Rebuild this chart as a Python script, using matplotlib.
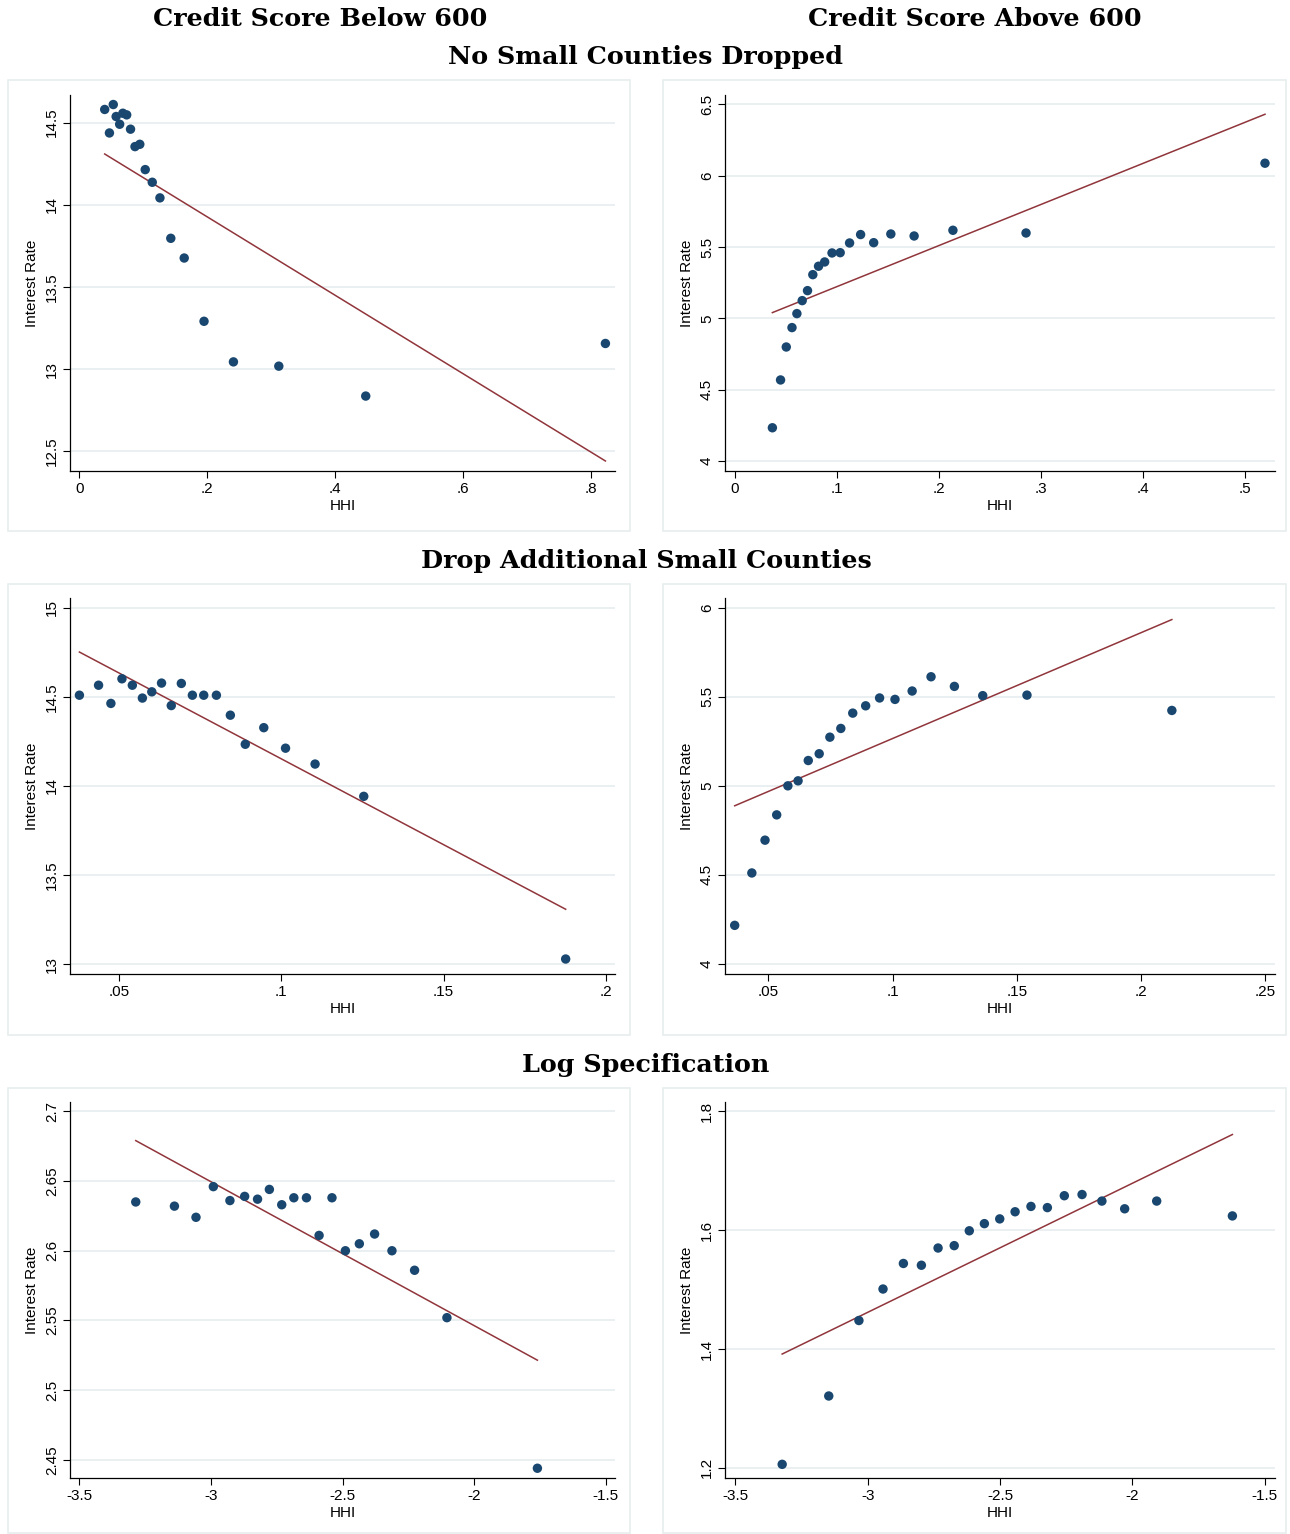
import numpy as np
import matplotlib
matplotlib.use('Agg')
import matplotlib.pyplot as plt
from matplotlib.patches import Rectangle

# ---- data ----
# row 1: no small counties dropped
x_lo1 = [0.0396, 0.053, 0.047, 0.0575, 0.063, 0.068, 0.074, 0.080, 0.087, 0.0945,
         0.103, 0.114, 0.126, 0.143, 0.164, 0.195, 0.241, 0.312, 0.448, 0.823]
y_lo1 = [14.58, 14.61, 14.437, 14.537, 14.49, 14.557, 14.547, 14.46, 14.354, 14.368,
         14.214, 14.137, 14.042, 13.796, 13.676, 13.291, 13.044, 13.018, 12.836, 13.156]
fit_lo1 = [14.309, 12.441]

x_hi1 = [0.0368, 0.0448, 0.0504, 0.056, 0.0608, 0.066, 0.0712, 0.0764, 0.082, 0.088,
         0.0952, 0.1032, 0.1124, 0.1232, 0.136, 0.1528, 0.1756, 0.2136, 0.2852, 0.5192]
y_hi1 = [4.233, 4.568, 4.799, 4.935, 5.033, 5.124, 5.194, 5.306, 5.365, 5.395,
         5.458, 5.460, 5.528, 5.587, 5.530, 5.591, 5.577, 5.617, 5.598, 6.087]
fit_hi1 = [5.040, 6.430]

# row 2: drop additional small counties
x_lo2 = [0.0378, 0.0437, 0.0475, 0.0509, 0.0541, 0.0572, 0.0601, 0.0631, 0.0661, 0.0692,
         0.0726, 0.0761, 0.0800, 0.0843, 0.0889, 0.0946, 0.1013, 0.1104, 0.1254, 0.1876]
y_lo2 = [14.509, 14.565, 14.463, 14.601, 14.565, 14.493, 14.528, 14.577, 14.451, 14.575,
         14.509, 14.509, 14.509, 14.397, 14.234, 14.327, 14.212, 14.123, 13.942, 13.030]
fit_lo2 = [14.751, 13.309]

x_hi2 = [0.0365, 0.0434, 0.0487, 0.0534, 0.0579, 0.0620, 0.0661, 0.0705, 0.0748, 0.0792,
         0.0840, 0.0892, 0.0948, 0.1010, 0.1079, 0.1155, 0.1249, 0.1363, 0.1541, 0.2124]
y_hi2 = [4.217, 4.511, 4.695, 4.837, 5.000, 5.028, 5.142, 5.180, 5.273, 5.322,
         5.408, 5.449, 5.493, 5.485, 5.532, 5.612, 5.558, 5.506, 5.509, 5.423]
fit_hi2 = [4.888, 5.933]

# row 3: log specification
x_lo3 = [-3.286, -3.139, -3.057, -2.991, -2.928, -2.872, -2.823, -2.778, -2.731, -2.685,
         -2.637, -2.589, -2.540, -2.489, -2.436, -2.378, -2.312, -2.226, -2.103, -1.759]
y_lo3 = [2.635, 2.632, 2.624, 2.646, 2.636, 2.639, 2.637, 2.644, 2.633, 2.638,
         2.638, 2.611, 2.638, 2.600, 2.605, 2.612, 2.600, 2.586, 2.552, 2.444]
fit_lo3 = [2.679, 2.5215]

x_hi3 = [-3.323, -3.147, -3.033, -2.942, -2.865, -2.797, -2.734, -2.673, -2.616, -2.559,
         -2.501, -2.443, -2.383, -2.321, -2.257, -2.190, -2.115, -2.029, -1.908, -1.622]
y_hi3 = [1.206, 1.321, 1.448, 1.501, 1.544, 1.541, 1.570, 1.574, 1.599, 1.611,
         1.619, 1.631, 1.640, 1.638, 1.658, 1.660, 1.649, 1.636, 1.649, 1.624]
fit_hi3 = [1.3916, 1.761]

# ticks
xt_lo1 = [0, 0.2, 0.4, 0.6, 0.8];          xl_lo1 = ['0', '.2', '.4', '.6', '.8']
yt_lo1 = [12.5, 13, 13.5, 14, 14.5];       yl_lo1 = ['12.5', '13', '13.5', '14', '14.5']
xt_hi1 = [0, 0.1, 0.2, 0.3, 0.4, 0.5];     xl_hi1 = ['0', '.1', '.2', '.3', '.4', '.5']
yt_hi1 = [4, 4.5, 5, 5.5, 6, 6.5];         yl_hi1 = ['4', '4.5', '5', '5.5', '6', '6.5']
xt_lo2 = [0.05, 0.1, 0.15, 0.2];           xl_lo2 = ['.05', '.1', '.15', '.2']
yt_lo2 = [13, 13.5, 14, 14.5, 15];         yl_lo2 = ['13', '13.5', '14', '14.5', '15']
xt_hi2 = [0.05, 0.1, 0.15, 0.2, 0.25];     xl_hi2 = ['.05', '.1', '.15', '.2', '.25']
yt_hi2 = [4, 4.5, 5, 5.5, 6];              yl_hi2 = ['4', '4.5', '5', '5.5', '6']
xt_log = [-3.5, -3, -2.5, -2, -1.5];       xl_log = ['-3.5', '-3', '-2.5', '-2', '-1.5']
yt_lo3 = [2.45, 2.5, 2.55, 2.6, 2.65, 2.7]; yl_lo3 = ['2.45', '2.5', '2.55', '2.6', '2.65', '2.7']
yt_hi3 = [1.2, 1.4, 1.6, 1.8];             yl_hi3 = ['1.2', '1.4', '1.6', '1.8']

col_titles = ['Credit Score Below 600', 'Credit Score Above 600']
row_titles = ['No Small Counties Dropped', 'Drop Additional Small Counties', 'Log Specification']

W = 1290; H = 1534
navy = '#1a476f'; maroon = '#90353b'; grid_c = '#e4ecef'; box_c = '#e6eeee'

plt.rcParams['font.family'] = ['Liberation Sans', 'DejaVu Sans']

fig = plt.figure(figsize=(W/100, H/100), dpi=100)
fig.patch.set_facecolor('white')

def px_rect(l, t, r, b):
    return [l/W, 1-b/H, (r-l)/W, (b-t)/H]

def panel(l, t, r, b, box, x, y, fit, xlim, ylim, xt, xl, yt, yl):
    # light outer box (Stata graph region)
    fig.patches.append(Rectangle((box[0]/W, 1-box[3]/H), (box[2]-box[0])/W, (box[3]-box[1])/H,
                                 transform=fig.transFigure, fill=False, ec=box_c, lw=1.2))
    ax = fig.add_axes(px_rect(l, t, r, b))
    x = np.array(x); y = np.array(y)
    for v in yt:
        ax.axhline(v, color=grid_c, lw=1.1, zorder=0)
    ax.plot([x.min(), x.max()], fit, color=maroon, lw=1.1, zorder=2)
    ax.scatter(x, y, s=46, color=navy, edgecolors='none', zorder=3)
    ax.set_xlim(xlim); ax.set_ylim(ylim)
    ax.set_xticks(xt); ax.set_xticklabels(xl)
    ax.set_yticks(yt); ax.set_yticklabels(yl, rotation=90, va='center')
    for s in ['top', 'right']:
        ax.spines[s].set_visible(False)
    for s in ['left', 'bottom']:
        ax.spines[s].set_linewidth(0.9)
    ax.tick_params(direction='out', length=5, width=0.8, labelsize=11, pad=3)
    ax.set_xlabel('HHI', fontsize=11, labelpad=2)
    ax.set_ylabel('Interest Rate', fontsize=11, labelpad=4)
    return ax

panel(70, 95, 615, 471, (8, 80, 630, 531), x_lo1, y_lo1, fit_lo1, (-0.0147, 0.838), (12.38, 14.668),
      xt_lo1, xl_lo1, yt_lo1, yl_lo1)
panel(725, 95, 1275, 471, (663, 80, 1286, 531), x_hi1, y_hi1, fit_hi1, (-0.0096, 0.529), (3.93, 6.565),
      xt_hi1, xl_hi1, yt_hi1, yl_hi1)
panel(70, 598, 615, 974, (8, 584, 630, 1035), x_lo2, y_lo2, fit_lo2, (0.0349, 0.2028), (12.946, 15.054),
      xt_lo2, xl_lo2, yt_lo2, yl_lo2)
panel(725, 598, 1275, 974, (663, 584, 1286, 1035), x_hi2, y_hi2, fit_hi2, (0.0326, 0.2539), (3.944, 6.054),
      xt_hi2, xl_hi2, yt_hi2, yl_hi2)
panel(70, 1102, 615, 1478, (8, 1088, 630, 1533), x_lo3, y_lo3, fit_lo3, (-3.536, -1.464), (2.437, 2.7067),
      xt_log, xl_log, yt_lo3, yl_lo3)
panel(725, 1102, 1275, 1478, (663, 1088, 1286, 1533), x_hi3, y_hi3, fit_hi3, (-3.539, -1.461), (1.183, 1.8157),
      xt_log, xl_log, yt_hi3, yl_hi3)

tfont = dict(family=['DejaVu Serif'], fontweight='bold', fontsize=18.3, ha='center', va='center')
fig.text(320/W, 1-19/H, col_titles[0], **tfont)
fig.text(975/W, 1-19/H, col_titles[1], **tfont)
fig.text(646/W, 1-57/H, row_titles[0], **tfont)
fig.text(646/W, 1-561/H, row_titles[1], **tfont)
fig.text(646/W, 1-1065/H, row_titles[2], **tfont)

fig.savefig('out.png', dpi=100)
